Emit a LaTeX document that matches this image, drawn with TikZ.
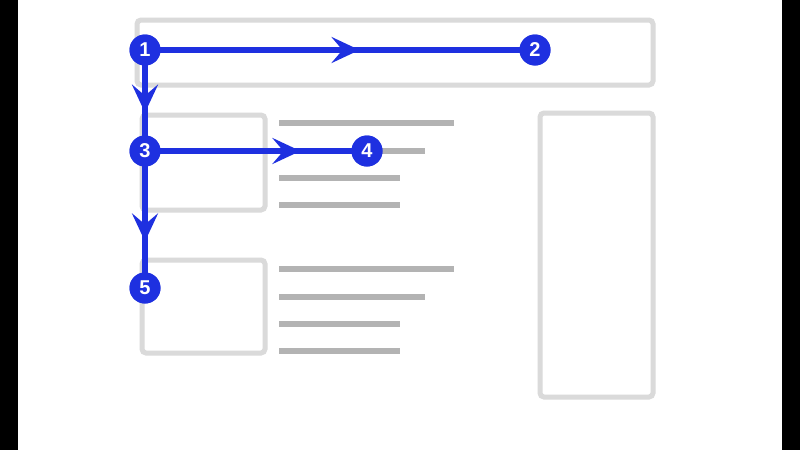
\documentclass[tikz,border=0pt]{standalone}
\usepackage{fontspec}
\setmainfont{Liberation Sans}
\usetikzlibrary{arrows.meta,decorations.markings}
\definecolor{frame}{HTML}{DADADA}
\definecolor{textline}{HTML}{B3B3B3}
\definecolor{flow}{HTML}{1E30E0}
\tikzset{
  panel/.style={draw=frame, line width=5pt, rounded corners=4pt},
  textbar/.style={draw=textline, line width=6pt},
  step circle/.style={circle, fill=flow, text=white, inner sep=0pt, minimum size=31pt, font=\bfseries\fontsize{20}{20}\selectfont},
  flowline/.style={draw=flow, line width=5.5pt, postaction={decorate}, decoration={markings, mark=at position #1 with {\arrow{Stealth[length=28pt,width=26pt,inset=11pt]}}}}
}
\begin{document}
\begin{tikzpicture}[x=1pt,y=-1pt]
  \useasboundingbox (0,0) rectangle (800,450);
  \fill[white] (0,0) rectangle (800,450);
  \fill[black] (0,0) rectangle (18,450);
  \fill[black] (782,0) rectangle (800,450);
  % page layout
  \draw[panel] (137,20) rectangle (653,85);
  \draw[panel] (142,115) rectangle (265,210);
  \draw[panel] (142,260) rectangle (265,353);
  \draw[panel] (540,113) rectangle (653,397);
  \foreach \y in {0,146} {
    \draw[textbar] (279,123+\y) -- (454,123+\y);
    \draw[textbar] (279,151+\y) -- (425,151+\y);
    \draw[textbar] (279,178+\y) -- (400,178+\y);
    \draw[textbar] (279,205+\y) -- (400,205+\y);
  }
  % reading path
  \node[step circle] (s1) at (145,50) {1};
  \node[step circle] (s2) at (535,50) {2};
  \node[step circle] (s3) at (145,151) {3};
  \node[step circle] (s4) at (367,151) {4};
  \node[step circle] (s5) at (145,288) {5};
  \path[flowline=0.55] (s1.center) -- (s2.center);
  \path[flowline=0.62] (s1.center) -- (s3.center);
  \path[flowline=0.7] (s3.center) -- (s4.center);
  \path[flowline=0.66] (s3.center) -- (s5.center);
  % circles again, over the lines
  \node[step circle] at (s1) {1};
  \node[step circle] at (s2) {2};
  \node[step circle] at (s3) {3};
  \node[step circle] at (s4) {4};
  \node[step circle] at (s5) {5};
\end{tikzpicture}
\end{document}
